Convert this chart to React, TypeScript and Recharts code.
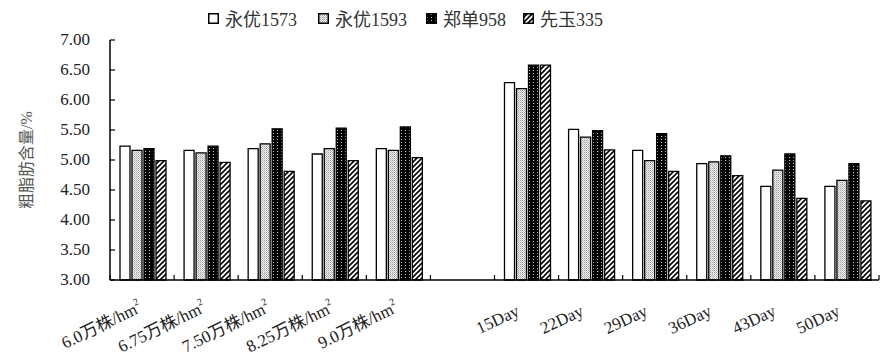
import { BarChart, Bar, XAxis, YAxis } from "recharts";

const categories = [
  "6.0万株/hm2",
  "6.75万株/hm2",
  "7.50万株/hm2",
  "8.25万株/hm2",
  "9.0万株/hm2",
  "",
  "15Day",
  "22Day",
  "29Day",
  "36Day",
  "43Day",
  "50Day",
];

const yongyou1573 = [5.23, 5.16, 5.19, 5.1, 5.19, null, 6.29, 5.51, 5.16, 4.94, 4.56, 4.56];
const yongyou1593 = [5.16, 5.12, 5.27, 5.19, 5.16, null, 6.19, 5.38, 4.99, 4.97, 4.83, 4.66];
const zhengdan958 = [5.19, 5.23, 5.52, 5.53, 5.55, null, 6.58, 5.49, 5.44, 5.07, 5.1, 4.94];
const xianyu335 = [4.99, 4.96, 4.81, 4.99, 5.04, null, 6.58, 5.17, 4.81, 4.74, 4.36, 4.32];

const yTicks = [3, 3.5, 4, 4.5, 5, 5.5, 6, 6.5, 7];

const series = [
  { key: "y1573", name: "永优1573", values: yongyou1573, fill: "#fff" },
  { key: "y1593", name: "永优1593", values: yongyou1593, fill: "url(#pat1593)" },
  { key: "z958", name: "郑单958", values: zhengdan958, fill: "url(#pat958)" },
  { key: "x335", name: "先玉335", values: xianyu335, fill: "url(#pat335)" },
];

const data = categories.map((c, i) => {
  const row: Record<string, any> = { name: c };
  series.forEach((s) => (row[s.key] = s.values[i]));
  return row;
});

const W = 888;
const H = 356;
const PLOT_LEFT = 110;
const PLOT_RIGHT = 879;
const PLOT_BOTTOM = 280;
const BAND = (PLOT_RIGHT - PLOT_LEFT) / categories.length;
const FONT = '"Liberation Serif", "Noto Sans CJK SC", serif';

const YTick = (props: any) => {
  const { y, payload } = props;
  return (
    <g>
      <line x1={PLOT_LEFT} x2={PLOT_LEFT + 5} y1={y} y2={y} stroke="#000" strokeWidth={1.2} />
      <text x={PLOT_LEFT - 20} y={y} dy={5} textAnchor="end" fontSize={17} fill="#222" fontFamily={FONT}>
        {Number(payload.value).toFixed(2)}
      </text>
    </g>
  );
};

const XTick = (props: any) => {
  const { x, payload, index } = props;
  const label: string = payload.value;
  const isDensity = index < 5;
  const ax = isDensity ? x + 1 : x - 6;
  const ay = isDensity ? PLOT_BOTTOM + 31 : PLOT_BOTTOM + 35;
  const angle = isDensity ? -26 : -25;
  const left = x - BAND / 2;
  return (
    <g>
      <line x1={left} x2={left} y1={PLOT_BOTTOM} y2={PLOT_BOTTOM - 5} stroke="#000" strokeWidth={1.2} />
      {index === categories.length - 1 && (
        <line x1={x + BAND / 2} x2={x + BAND / 2} y1={PLOT_BOTTOM} y2={PLOT_BOTTOM - 5} stroke="#000" strokeWidth={1.2} />
      )}
      {label && (
        <text
          x={ax}
          y={ay}
          textAnchor="end"
          transform={`rotate(${angle} ${ax} ${ay})`}
          fontSize={17}
          fill="#222"
          fontFamily={FONT}
        >
          {label.endsWith("hm2") ? (
            <>
              {label.slice(0, -1)}
              <tspan dy={-8} fontSize={10}>2</tspan>
            </>
          ) : (
            label
          )}
        </text>
      )}
    </g>
  );
};

const legendLeft = [208, 318, 426, 523];

export default function App() {
  return (
    <div style={{ position: "absolute", left: 0, top: 0, width: W, height: H, background: "#fff" }}>
      <svg width={0} height={0} style={{ position: "absolute" }}>
        <defs>
          <pattern id="pat1593" width={2} height={2} patternUnits="userSpaceOnUse">
            <rect width={2} height={2} fill="#f0f0f0" />
            <rect x={0} y={0} width={1} height={1} fill="#a0a0a0" />
            <rect x={1} y={1} width={1} height={1} fill="#c4c4c4" />
          </pattern>
          <pattern id="pat958" width={4} height={3} patternUnits="userSpaceOnUse">
            <rect width={4} height={3} fill="#000" />
            <rect x={1} y={1} width={1} height={1} fill="#ccc" />
          </pattern>
          <pattern id="pat335" width={5} height={5} patternUnits="userSpaceOnUse">
            <rect width={5} height={5} fill="#fff" />
            <path d="M0,5 L5,0 M-1,1 L1,-1 M4,6 L6,4" stroke="#000" strokeWidth={1.6} />
          </pattern>
        </defs>
      </svg>

      {series.map((s, i) => (
        <div
          key={s.key}
          style={{
            position: "absolute",
            left: legendLeft[i],
            top: 5,
            display: "flex",
            alignItems: "center",
            fontFamily: FONT,
            fontSize: 18,
            color: "#333",
            whiteSpace: "nowrap",
          }}
        >
          <svg width={11} height={11} style={{ marginRight: 6 }}>
            <rect x={0.75} y={0.75} width={9.5} height={9.5} fill={s.fill} stroke="#000" strokeWidth={1.5} />
          </svg>
          <span>{s.name}</span>
        </div>
      ))}

      <BarChart
        width={W}
        height={H}
        data={data}
        margin={{ top: 40, right: W - PLOT_RIGHT, bottom: 16, left: 0 }}
        barCategoryGap={10}
        barGap={2}
      >
        <XAxis
          dataKey="name"
          interval={0}
          height={60}
          tick={<XTick />}
          tickLine={false}
          axisLine={{ stroke: "#000", strokeWidth: 1.5 }}
        />
        <YAxis
          width={PLOT_LEFT}
          domain={[3, 7]}
          ticks={yTicks}
          interval={0}
          tick={<YTick />}
          tickLine={false}
          axisLine={{ stroke: "#000", strokeWidth: 1.5 }}
          label={{
            value: "粗脂肪含量/%",
            angle: -90,
            position: "insideLeft",
            offset: 26,
            style: { fontSize: 16, fill: "#555", fontFamily: FONT, textAnchor: "middle" },
          }}
        />
        {series.map((s) => (
          <Bar
            key={s.key}
            dataKey={s.key}
            name={s.name}
            fill={s.fill}
            stroke="#000"
            strokeWidth={1.3}
            isAnimationActive={false}
          />
        ))}
      </BarChart>
    </div>
  );
}
